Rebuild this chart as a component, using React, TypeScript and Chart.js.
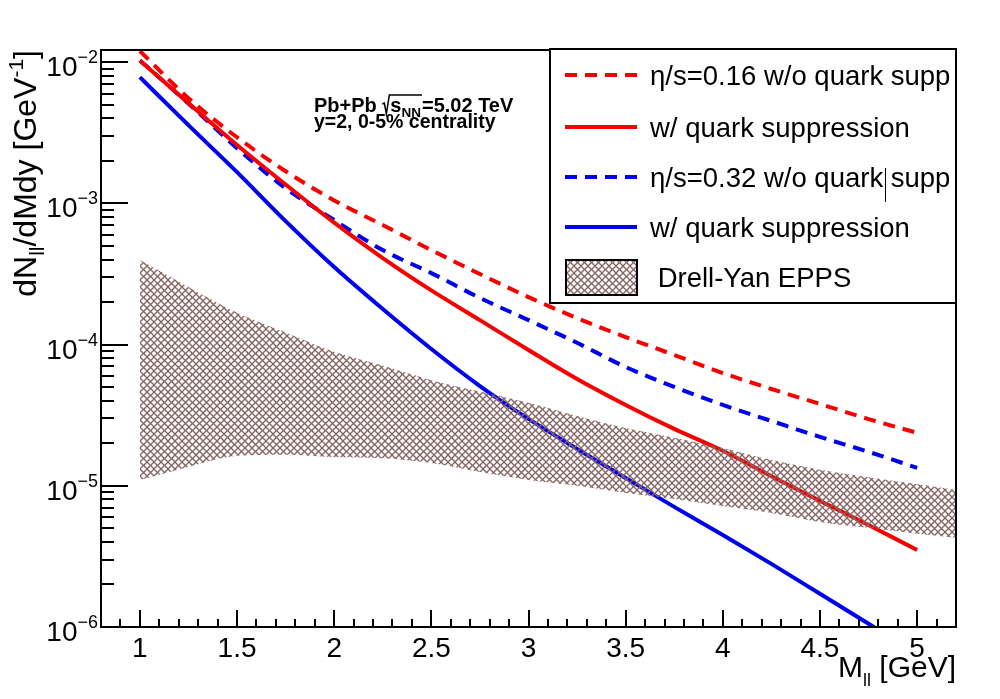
import React, { useEffect, useRef } from "react";
import { Chart, registerables } from "chart.js";

Chart.register(...registerables);

// ---------------- data ----------------
const massGeV = [1.0, 1.25, 1.5, 1.75, 2.0, 2.25, 2.5, 2.75, 3.0, 3.25, 3.5, 3.75, 4.0, 4.25, 4.5, 4.75, 5.0];

// eta/s = 0.16, without quark suppression (red dashed)
const eta016NoSupp = [1.2e-2, 5.56e-3, 2.94e-3, 1.69e-3, 1.05e-3, 7.02e-4, 4.67e-4, 3.16e-4, 2.17e-4, 1.54e-4, 1.13e-4, 8.44e-5, 6.29e-5, 4.85e-5, 3.8e-5, 2.97e-5, 2.37e-5];
// eta/s = 0.16, with quark suppression (red solid)
const eta016QuarkSupp = [1.03e-2, 5.13e-3, 2.59e-3, 1.36e-3, 7.3e-4, 4.1e-4, 2.42e-4, 1.49e-4, 9.16e-5, 5.71e-5, 3.74e-5, 2.53e-5, 1.77e-5, 1.17e-5, 7.82e-6, 5.28e-6, 3.51e-6];
// eta/s = 0.32, without quark suppression (blue dashed)
const eta032NoSupp = [1.03e-2, 5.1e-3, 2.46e-3, 1.28e-3, 7.62e-4, 4.67e-4, 3.21e-4, 2.14e-4, 1.49e-4, 1.03e-4, 6.94e-5, 5.01e-5, 3.74e-5, 2.88e-5, 2.22e-5, 1.74e-5, 1.34e-5];
// eta/s = 0.32, with quark suppression (blue solid)
const eta032QuarkSupp = [7.83e-3, 3.58e-3, 1.665e-3, 7.49e-4, 3.54e-4, 1.786e-4, 9.31e-5, 5.09e-5, 2.975e-5, 1.824e-5, 1.137e-5, 7.09e-6, 4.49e-6, 2.8e-6, 1.718e-6, 1.054e-6, 6.46e-7];

// Drell-Yan EPPS band
const drellYanMass = [1.0, 1.25, 1.5, 1.75, 2.0, 2.25, 2.5, 2.75, 3.0, 3.25, 3.5, 3.75, 4.0, 4.25, 4.5, 4.75, 5.0, 5.2];
const drellYanUpper = [3.97e-4, 2.56e-4, 1.68e-4, 1.22e-4, 8.9e-5, 7.1e-5, 5.6e-5, 4.65e-5, 3.87e-5, 3.12e-5, 2.57e-5, 2.19e-5, 1.85e-5, 1.52e-5, 1.3e-5, 1.15e-5, 1.03e-5, 9.35e-6];
const drellYanLower = [1.1e-5, 1.36e-5, 1.63e-5, 1.66e-5, 1.6e-5, 1.57e-5, 1.45e-5, 1.25e-5, 1.1e-5, 1.0e-5, 8.9e-6, 8.07e-6, 7.2e-6, 6.43e-6, 5.55e-6, 5.04e-6, 4.57e-6, 4.28e-6];

const xTickLabels = ["1", "1.5", "2", "2.5", "3", "3.5", "4", "4.5", "5"];
const yTickExponents = [-6, -5, -4, -3, -2];
const legendLabels = ["η/s=0.16 w/o quark supp", "w/ quark suppression", "η/s=0.32 w/o quark supp", "w/ quark suppression", " Drell-Yan EPPS"];

const X_MIN = 0.8;
const X_MAX = 5.2;
const Y_MIN = 1e-6;
const Y_MAX = 0.0122;

const RED = "#f80000";
const BLUE = "#0000f0";
const HATCH = "#876464";
const FONT = '"Liberation Sans", Arial, Helvetica, sans-serif';

function pts(xs: number[], ys: number[]) {
  return xs.map((x, i) => ({ x, y: ys[i] }));
}

function makeHatch(ctx: CanvasRenderingContext2D) {
  const s = 7;
  const c = document.createElement("canvas");
  c.width = s;
  c.height = s;
  const g = c.getContext("2d")!;
  g.strokeStyle = HATCH;
  g.lineWidth = 1.3;
  for (const o of [-s, 0, s]) {
    g.beginPath();
    g.moveTo(o, 0);
    g.lineTo(o + s, s);
    g.stroke();
    g.beginPath();
    g.moveTo(o, s);
    g.lineTo(o + s, 0);
    g.stroke();
  }
  return ctx.createPattern(c, "repeat")!;
}

type Run = { t: string; size: number; dy?: number; bold?: boolean };

function runsWidth(ctx: CanvasRenderingContext2D, runs: Run[]) {
  let w = 0;
  for (const r of runs) {
    ctx.font = `${r.bold ? "bold " : ""}${r.size}px ${FONT}`;
    w += ctx.measureText(r.t).width;
  }
  return w;
}

function drawRuns(ctx: CanvasRenderingContext2D, runs: Run[], x: number, y: number) {
  let cx = x;
  for (const r of runs) {
    ctx.font = `${r.bold ? "bold " : ""}${r.size}px ${FONT}`;
    ctx.fillText(r.t, cx, y + (r.dy || 0));
    cx += ctx.measureText(r.t).width;
  }
  return cx;
}

export default function App() {
  const ref = useRef<HTMLCanvasElement>(null);

  useEffect(() => {
    const canvas = ref.current!;
    const ctx0 = canvas.getContext("2d")!;
    const hatch = makeHatch(ctx0);

    const rootStyle = {
      id: "rootStyle",
      afterDraw(chart: any) {
        const { ctx, chartArea: a, scales } = chart;
        const xs = scales.x;
        const ys = scales.y;
        ctx.save();
        ctx.strokeStyle = "#000";
        ctx.fillStyle = "#000";
        ctx.setLineDash([]);

        // frame
        ctx.lineWidth = 2;
        ctx.strokeRect(a.left, a.top, a.right - a.left, a.bottom - a.top);

        // x ticks (inward)
        ctx.beginPath();
        for (let i = 9; i <= 51; i++) {
          const x = Math.round(xs.getPixelForValue(i / 10));
          const len = i % 5 === 0 ? 17 : 8;
          ctx.moveTo(x, a.bottom);
          ctx.lineTo(x, a.bottom - len);
        }
        ctx.stroke();

        // y ticks (inward)
        ctx.beginPath();
        for (let d = -6; d <= -2; d++) {
          for (let m = 1; m <= 9; m++) {
            const v = m * Math.pow(10, d);
            if (v > Y_MAX || v < Y_MIN) continue;
            const y = Math.round(ys.getPixelForValue(v));
            const len = m === 1 ? 27 : 13;
            ctx.moveTo(a.left, y);
            ctx.lineTo(a.left + len, y);
          }
        }
        ctx.stroke();

        // x tick labels
        ctx.font = `28px ${FONT}`;
        ctx.textAlign = "center";
        ctx.textBaseline = "alphabetic";
        for (const lab of xTickLabels) {
          const x = xs.getPixelForValue(parseFloat(lab));
          ctx.fillText(lab, x, 657);
        }

        // y tick labels 10^n
        ctx.textAlign = "left";
        for (const e of yTickExponents) {
          const y = ys.getPixelForValue(Math.pow(10, e));
          const runs: Run[] = [
            { t: "10", size: 28, dy: 14 },
            { t: "\u2212" + Math.abs(e), size: 18, dy: 1 },
          ];
          const w = runsWidth(ctx, runs);
          drawRuns(ctx, runs, a.left - 3 - w, y);
        }

        // x axis title
        const xt: Run[] = [
          { t: "M", size: 30 },
          { t: "ll", size: 18, dy: 9 },
          { t: " [GeV]", size: 30 },
        ];
        const xtw = runsWidth(ctx, xt);
        drawRuns(ctx, xt, a.right - xtw, 677);

        // y axis title (rotated)
        const yt: Run[] = [
          { t: "dN", size: 32 },
          { t: "ll", size: 21, dy: 8 },
          { t: "/dMdy [GeV", size: 32 },
          { t: "-1", size: 21, dy: -13 },
          { t: "]", size: 32 },
        ];
        const ytw = runsWidth(ctx, yt);
        ctx.save();
        ctx.translate(36, a.top);
        ctx.rotate(-Math.PI / 2);
        drawRuns(ctx, yt, -ytw, 0);
        ctx.restore();

        // annotation
        let cx = drawRuns(ctx, [{ t: "Pb+Pb ", size: 20, bold: true }], 314, 112);
        // radical sign
        const rx = cx;
        ctx.lineWidth = 1.5;
        ctx.beginPath();
        ctx.moveTo(rx, 104);
        ctx.lineTo(rx + 2, 103);
        ctx.lineTo(rx + 4, 114);
        ctx.lineTo(rx + 7, 95);
        const sStart = rx + 8;
        const afterNN = drawRuns(
          ctx,
          [
            { t: "s", size: 20, bold: true },
            { t: "NN", size: 13.5, bold: true, dy: 5 },
          ],
          sStart,
          112
        );
        ctx.lineTo(afterNN + 1, 95);
        ctx.stroke();
        drawRuns(ctx, [{ t: "=5.02 TeV", size: 20, bold: true }], afterNN + 1, 112);
        drawRuns(ctx, [{ t: "y=2, 0-5% centrality", size: 19.5, bold: true }], 314, 128);

        // legend
        const lx = 550;
        const ly = 49;
        const lw = a.right - lx;
        const lh = 254;
        ctx.fillStyle = "#fff";
        ctx.fillRect(lx, ly, lw, lh);
        ctx.strokeStyle = "#000";
        ctx.lineWidth = 2;
        ctx.strokeRect(lx, ly, lw, lh);
        ctx.fillStyle = "#000";

        const rows = [75, 127, 177, 227, 277];
        const styles = [
          { c: RED, dash: [12, 8] },
          { c: RED, dash: [] as number[] },
          { c: BLUE, dash: [12, 8] },
          { c: BLUE, dash: [] as number[] },
        ];
        for (let i = 0; i < 4; i++) {
          ctx.strokeStyle = styles[i].c;
          ctx.lineWidth = 4;
          ctx.setLineDash(styles[i].dash);
          ctx.beginPath();
          ctx.moveTo(565, rows[i]);
          ctx.lineTo(637, rows[i]);
          ctx.stroke();
        }
        ctx.setLineDash([]);
        ctx.fillStyle = hatch;
        ctx.fillRect(566, 260, 71, 35);
        ctx.strokeStyle = "#000";
        ctx.lineWidth = 2;
        ctx.strokeRect(566, 260, 71, 35);

        ctx.fillStyle = "#000";
        ctx.font = `27.5px ${FONT}`;
        ctx.textAlign = "left";
        for (let i = 0; i < legendLabels.length; i++) {
          ctx.fillText(legendLabels[i], 650, rows[i] + 10);
        }
        // small vertical mark present in the reference legend
        ctx.lineWidth = 1;
        ctx.beginPath();
        ctx.moveTo(885.5, 168);
        ctx.lineTo(885.5, 202);
        ctx.stroke();

        ctx.restore();
      },
    };

    const lineDs = (label: string, data: number[], color: string, dash: number[]) => ({
      label,
      data: pts(massGeV, data),
      borderColor: color,
      borderWidth: 4,
      borderDash: dash,
      pointRadius: 0,
      fill: false,
      cubicInterpolationMode: "monotone" as const,
      clip: 0,
    });

    const chart = new Chart(canvas, {
      type: "line",
      data: {
        datasets: [
          {
            label: "DY upper",
            data: pts(drellYanMass, drellYanUpper),
            borderWidth: 0,
            borderColor: "rgba(0,0,0,0)",
            pointRadius: 0,
            fill: false,
            cubicInterpolationMode: "monotone",
            clip: 0,
          },
          {
            label: "Drell-Yan EPPS",
            data: pts(drellYanMass, drellYanLower),
            borderWidth: 0,
            borderColor: "rgba(0,0,0,0)",
            backgroundColor: hatch,
            pointRadius: 0,
            fill: "-1",
            cubicInterpolationMode: "monotone",
            clip: 0,
          },
          lineDs(legendLabels[1] + " (0.16)", eta016QuarkSupp, RED, []),
          lineDs(legendLabels[0], eta016NoSupp, RED, [12, 8]),
          lineDs(legendLabels[3] + " (0.32)", eta032QuarkSupp, BLUE, []),
          lineDs(legendLabels[2], eta032NoSupp, BLUE, [12, 8]),
        ] as any,
      },
      options: {
        animation: false,
        responsive: false,
        devicePixelRatio: 1,
        events: [],
        layout: { padding: { left: 101, right: 44, top: 50, bottom: 72 } },
        scales: {
          x: { type: "linear", min: X_MIN, max: X_MAX, display: false },
          y: { type: "logarithmic", min: Y_MIN, max: Y_MAX, display: false },
        },
        plugins: {
          legend: { display: false },
          tooltip: { enabled: false },
          title: { display: false },
        },
      },
      plugins: [rootStyle],
    });

    return () => chart.destroy();
  }, []);

  return (
    <div style={{ position: "fixed", left: 0, top: 0, width: 1000, height: 699, background: "#fff" }}>
      <canvas ref={ref} width={1000} height={699} style={{ display: "block", width: 1000, height: 699 }} />
    </div>
  );
}
